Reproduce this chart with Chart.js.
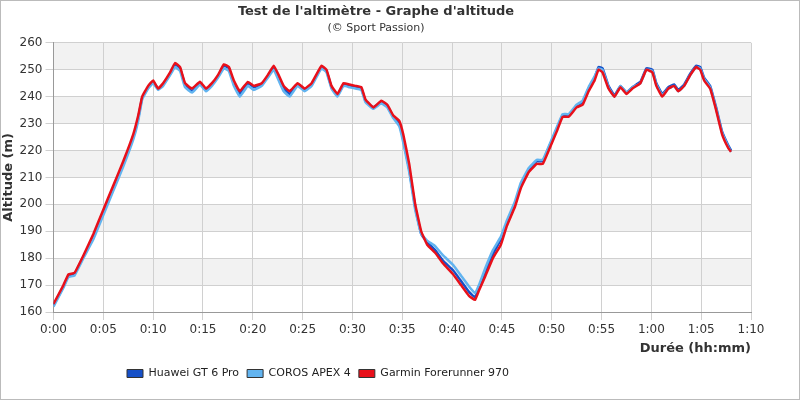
<!DOCTYPE html>
<html>
<head>
<meta charset="utf-8">
<script src="https://cdn.jsdelivr.net/npm/chart.js@4"></script>
<style>
  html, body { margin: 0; padding: 0; background: #fff; }
  #wrap { width: 798px; height: 398px; border: 1px solid #bbb; position: relative; }
</style>
</head>
<body>
<div id="wrap"><canvas id="chart"></canvas></div>
<script>
// time in minutes
const minutes = [0, 1, 1.5, 2.1, 3, 4, 5, 6, 7, 8, 8.5, 8.9, 9.5, 10, 10.5, 11, 11.7, 12.2, 12.7, 13.2, 13.9, 14.7, 15.3, 15.9, 16.5, 17.1, 17.6, 18.1, 18.7, 19.5, 20.1, 20.9, 21.5, 22.1, 22.6, 23.1, 23.7, 24.5, 25.2, 25.9, 26.5, 26.9, 27.4, 27.9, 28.5, 29.1, 29.7, 30.3, 30.9, 31.3, 32.1, 32.9, 33.5, 34.1, 34.7, 35.1, 35.7, 36.3, 36.9, 37.5, 38.3, 39.1, 40.1, 40.9, 41.7, 42.3, 42.7, 43.3, 44.1, 44.9, 45.5, 46.3, 46.9, 47.7, 48.5, 49.1, 49.7, 50.5, 51.1, 51.7, 52.5, 53.1, 53.7, 54.3, 54.7, 55.1, 55.7, 56.3, 56.9, 57.5, 58.1, 58.9, 59.5, 60.1, 60.5, 61.1, 61.7, 62.3, 62.7, 63.3, 63.9, 64.5, 64.9, 65.3, 65.9, 66.5, 67.1, 67.7, 68];

const garmin = [163, 170, 174, 174.5, 181, 189, 198, 207, 216, 226, 233, 240, 244, 246, 243, 245, 249, 252.5, 251, 245, 243, 245.5, 243, 245, 248, 252, 251, 246, 242, 245.5, 244, 245, 248, 251.5, 248, 244, 242, 245, 243, 245, 249, 251.5, 250, 244, 241, 245, 244.5, 244, 243.5, 239, 236, 238.5, 237, 233, 231, 226, 215, 200, 190, 185, 182, 178, 174, 170, 166, 164.5, 168, 173, 180, 185, 192, 199, 206, 212, 215, 215, 220, 227, 232.5, 232.5, 236, 237, 242, 246, 250, 249, 243, 240, 243.5, 241, 243, 245, 250, 249, 244, 240, 243, 244, 242, 244, 248, 251, 250, 246, 243, 235, 226, 221, 219.5];

const huawei = [162.5, 169.5, 173.5, 174, 180.5, 188, 197, 206, 215, 225, 232, 239.5, 243.5, 245.5, 243, 244.5, 248.5, 252, 250.5, 244.5, 242, 245, 242.5, 244.5, 247.5, 251.5, 250.5, 245, 241, 245, 243.5, 244.5, 247.5, 251, 247, 243, 241, 244.5, 242.5, 244.5, 248.5, 251, 249.5, 243.5, 240.5, 244.5, 244, 243.5, 243, 238.5, 236, 238, 236.5, 232.5, 230, 224, 213, 199, 189, 186, 183, 179, 175.5, 171.5, 167.5, 165.5, 169, 174.5, 181.5, 187, 193, 200, 207, 213, 216, 216, 221, 228, 233, 233, 236.5, 238, 243, 247, 251, 250.5, 244, 240.5, 244, 241.5, 243.5, 245.5, 250.5, 250, 245, 241, 243.5, 244.5, 242.5, 244.5, 248.5, 251.5, 251, 247, 244, 236, 227, 222, 220];

const coros = [162, 169, 173, 173.5, 180, 187, 196, 205, 214, 224, 231, 239, 243, 245, 242.5, 244, 248, 251, 249.5, 243.5, 241.5, 244.5, 242, 244, 247, 250.5, 249.5, 244, 240, 244, 242.5, 244, 247, 250, 246, 242, 240, 244, 242, 244, 248, 250.5, 249, 243, 240, 244, 243.5, 243, 242.5, 238, 235.5, 237.5, 236, 232, 229, 223, 212, 198, 189, 186.5, 184.5, 181, 177.5, 173.5, 169.5, 167, 170, 176, 183, 188, 194, 201, 208, 213.5, 216.5, 216.5, 221.5, 228.5, 233.5, 233.5, 237, 238.5, 243.5, 247.5, 250.5, 250, 243.5, 240, 244, 241.5, 243.5, 245, 250, 249.5, 244.5, 240.5, 243, 244, 242, 244, 248, 251, 250.5, 246.5, 243.5, 235.5, 226.5, 221.5, 219.5];

const seriesNames = ["Huawei GT 6 Pro", "COROS APEX 4", "Garmin Forerunner 970"];
const seriesColors = ["#1650c8", "#62b4f0", "#e8101a"];

Chart.defaults.font.family = "DejaVu Sans";
Chart.defaults.color = "#333";

function toPoints(values) {
  return values.map((v, i) => ({ x: minutes[i], y: v }));
}

function formatTime(value) {
  const h = Math.floor(value / 60);
  const m = Math.round(value % 60);
  return h + ":" + String(m).padStart(2, "0");
}

const bandsPlugin = {
  id: "bands",
  afterLayout(chart) {
    // legend sits left of centre in the reference
    if (chart.legend) chart.legend.left += 118;
  },
  beforeDraw(chart) {
    const { ctx, chartArea, scales } = chart;
    const y = scales.y;
    ctx.save();
    for (let v = 260, k = 0; v > 160; v -= 10, k++) {
      if (k % 2 !== 0) continue;
      const top = y.getPixelForValue(v);
      const bottom = y.getPixelForValue(v - 10);
      ctx.fillStyle = "#f2f2f2";
      ctx.fillRect(chartArea.left, top, chartArea.right - chartArea.left, bottom - top);
    }
    ctx.restore();
  },
};

const datasets = [huawei, coros, garmin].map((values, i) => ({
  label: seriesNames[i],
  data: toPoints(values),
  borderColor: seriesColors[i],
  backgroundColor: seriesColors[i],
  borderWidth: 2.5,
  pointRadius: 0,
  tension: 0.1,
  order: 3 - i,
}));

new Chart(document.getElementById("chart"), {
  type: "line",
  data: { datasets },
  plugins: [bandsPlugin],
  options: {
    responsive: true,
    maintainAspectRatio: false,
    animation: false,
    layout: { padding: { left: 0, right: 48, top: 0, bottom: 10 } },
    plugins: {
      title: {
        display: true,
        text: "Test de l'altimètre - Graphe d'altitude",
        font: { size: 13, weight: "bold" },
        padding: { top: 3, bottom: 2 },
      },
      subtitle: {
        display: true,
        text: "(© Sport Passion)",
        font: { size: 11 },
        padding: { bottom: 8 },
      },
      legend: {
        position: "bottom",
        align: "start",
        labels: {
          boxWidth: 16,
          boxHeight: 8,
          font: { size: 11 },
          padding: 8,
          generateLabels() {
            return seriesNames.map((name, i) => ({
              text: name,
              fillStyle: seriesColors[i],
              strokeStyle: "#333",
              lineWidth: 1,
              datasetIndex: i,
              fontColor: "#222",
            }));
          },
        },
      },
      tooltip: { enabled: false },
    },
    scales: {
      x: {
        type: "linear",
        min: 0,
        max: 70,
        ticks: { stepSize: 5, callback: formatTime, font: { size: 12 }, maxRotation: 0 },
        grid: { color: "#d0d0d0" },
        border: { color: "#999" },
        title: {
          display: true,
          text: "Durée (hh:mm)",
          align: "end",
          font: { size: 13, weight: "bold" },
          padding: { top: 0, bottom: 4 },
        },
      },
      y: {
        min: 160,
        max: 260,
        ticks: { stepSize: 10, font: { size: 12 } },
        grid: { color: "#d0d0d0" },
        border: { color: "#999" },
        title: {
          display: true,
          text: "Altitude (m)",
          font: { size: 13, weight: "bold" },
          padding: 0,
        },
      },
    },
  },
});
</script>
</body>
</html>
